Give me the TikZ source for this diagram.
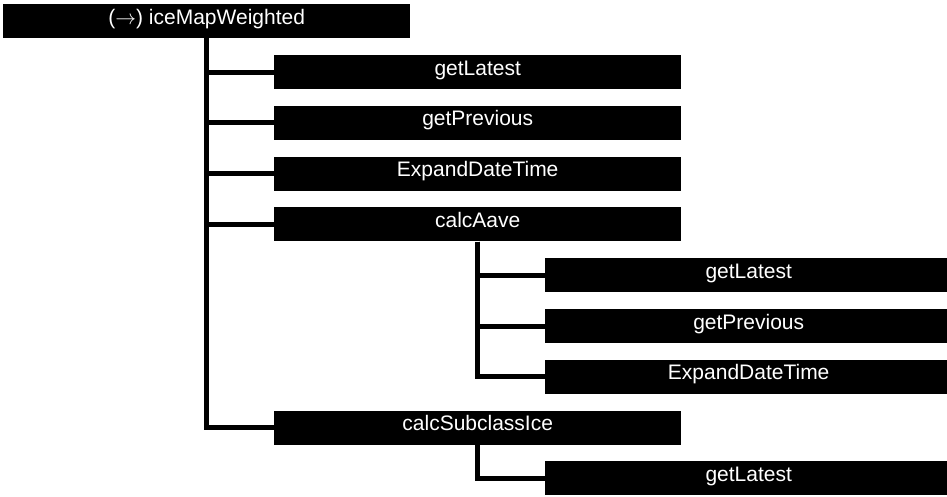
\documentclass[tikz,border=0pt]{standalone}
\usepackage{fontspec}
\setmainfont{Liberation Sans}

\begin{document}
\begin{tikzpicture}[x=1pt,y=-1pt,
  fnbox/.style={anchor=north west,fill=black,text=white,inner sep=0pt,
    minimum width=407pt,minimum height=34pt,text height=16pt,text depth=10pt,
    font=\fontsize{21}{25}\selectfont},
  calllink/.style={line width=5pt,black}]
\useasboundingbox (0,0) rectangle (947,496);
% boxes
\node[fnbox] (main) at (3,4) {($\rightarrow$) iceMapWeighted};
\node[fnbox] (latest) at (274,54.8) {getLatest};
\node[fnbox] (previous) at (274,105.6) {getPrevious};
\node[fnbox] (expand) at (274,156.4) {ExpandDateTime};
\node[fnbox] (aave) at (274,207.2) {calcAave};
\node[fnbox] (aavelatest) at (545,258) {getLatest};
\node[fnbox] (aaveprevious) at (545,308.8) {getPrevious};
\node[fnbox] (aaveexpand) at (545,359.6) {ExpandDateTime};
\node[fnbox] (subclass) at (274,410.4) {calcSubclassIce};
\node[fnbox] (subclasslatest) at (545,461.2) {getLatest};
% calls
\draw[calllink] (main.south) |- (latest.west);
\draw[calllink] (main.south) |- (previous.west);
\draw[calllink] (main.south) |- (expand.west);
\draw[calllink] (main.south) |- (aave.west);
\draw[calllink] (main.south) |- (subclass.west);
\draw[calllink] (aave.south) |- (aavelatest.west);
\draw[calllink] (aave.south) |- (aaveprevious.west);
\draw[calllink] (aave.south) |- (aaveexpand.west);
\draw[calllink] (subclass.south) |- (subclasslatest.west);
\end{tikzpicture}
\end{document}
